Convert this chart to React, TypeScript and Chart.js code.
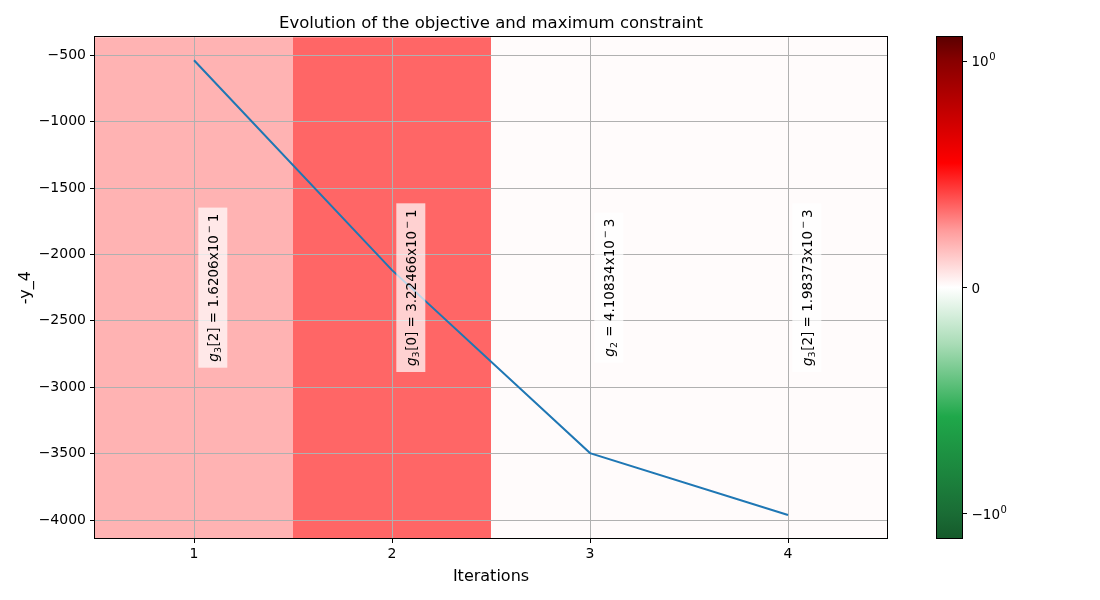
import React, { useEffect, useRef } from "react";
import { Chart, registerables } from "chart.js";

Chart.register(...registerables);

// ---------- data ----------
const ITERATIONS = [1, 2, 3, 4];
const OBJECTIVE = [-537, -2118, -3496, -3962];
const X_TICKS = [1, 2, 3, 4];
const Y_TICKS = [-500, -1000, -1500, -2000, -2500, -3000, -3500, -4000];
const X_MIN = 0.5;
const X_MAX = 4.5;
const Y_MIN = -4135.5;
const Y_MAX = -364.5;
// background colour of each iteration (max constraint value coloured by the colormap)
const SPAN_COLORS = ["#ffb3b3", "#ff6666", "#fffbfb", "#fffbfb"];
// annotation of the max constraint for each iteration
const CONSTRAINT_SUB = ["3", "3", "2", "3"];
const CONSTRAINT_INDEX = ["[2]", "[0]", "", "[2]"];
const CONSTRAINT_MANTISSA = ["1.6206", "3.22466", "4.10834", "1.98373"];
const CONSTRAINT_EXP = ["1", "1", "3", "3"];
// colorbar
const CB_MIN = -1.106;
const CB_MAX = 1.106;
const CB_TICKS = [-1, 0, 1];
const CB_TICK_BASE = ["\u221210", "0", "10"];
const CB_TICK_EXP = ["0", "", "0"];
const CB_STOP_VALUES = [1.106, 1.0, 0.55, 0.25, 0, -0.25, -0.57, -1.0, -1.106];
const CB_STOP_COLORS = [
  "#5c0000",
  "#880000",
  "#ff0000",
  "#ff9c9c",
  "#ffffff",
  "#a9dcb6",
  "#1fa84a",
  "#1a6c35",
  "#155a2b",
];

const FONT = "'DejaVu Sans', sans-serif";

function fmtTick(v: number): string {
  return v < 0 ? "\u2212" + Math.abs(v) : String(v);
}

type Piece = { text: string; size: number; italic?: boolean; dy: number; gap: number };

function buildPieces(i: number): Piece[] {
  const p: Piece[] = [];
  p.push({ text: "g", size: 13.5, italic: true, dy: 0, gap: 0 });
  p.push({ text: CONSTRAINT_SUB[i], size: 9.5, dy: 3, gap: 0 });
  p.push({
    text: (CONSTRAINT_INDEX[i] ? CONSTRAINT_INDEX[i] : "") + " = " + CONSTRAINT_MANTISSA[i] + "x10",
    size: 13.5,
    dy: 0,
    gap: CONSTRAINT_INDEX[i] ? 0.5 : 1,
  });
  p.push({ text: "\u2212", size: 9.5, dy: -5.5, gap: 2 });
  p.push({ text: CONSTRAINT_EXP[i], size: 13.5, dy: 0, gap: 3 });
  return p;
}

const spanPlugin = {
  id: "spans",
  beforeDraw(chart: any) {
    const { ctx, chartArea } = chart;
    const xs = chart.scales.x;
    ctx.save();
    ITERATIONS.forEach((it, i) => {
      const x0 = xs.getPixelForValue(it - 0.5);
      const x1 = xs.getPixelForValue(it + 0.5);
      ctx.fillStyle = SPAN_COLORS[i];
      ctx.fillRect(x0, chartArea.top, x1 - x0, chartArea.bottom - chartArea.top);
    });
    ctx.restore();
  },
};

const annotationPlugin = {
  id: "constraintText",
  afterDatasetsDraw(chart: any) {
    const { ctx, chartArea } = chart;
    const xs = chart.scales.x;
    const yc = (chartArea.top + chartArea.bottom) / 2;
    ITERATIONS.forEach((it, i) => {
      const pieces = buildPieces(i);
      ctx.save();
      let total = 0;
      const widths = pieces.map((pc) => {
        ctx.font = `${pc.italic ? "italic " : ""}${pc.size}px ${FONT}`;
        const w = ctx.measureText(pc.text).width;
        total += w + pc.gap;
        return w;
      });
      const x = xs.getPixelForValue(it + 0.095);
      ctx.translate(x, yc);
      ctx.rotate(-Math.PI / 2);
      const padL = 6;
      const halfH = 14.5;
      ctx.fillStyle = "rgba(255,255,255,0.7)";
      ctx.fillRect(-total / 2 - padL, -halfH, total + 2 * padL, 2 * halfH);
      let cx = -total / 2;
      ctx.fillStyle = "#000";
      ctx.textBaseline = "alphabetic";
      ctx.textAlign = "left";
      pieces.forEach((pc, k) => {
        cx += pc.gap;
        ctx.font = `${pc.italic ? "italic " : ""}${pc.size}px ${FONT}`;
        ctx.fillText(pc.text, cx, 5 + pc.dy);
        cx += widths[k];
      });
      ctx.restore();
    });
  },
  afterDraw(chart: any) {
    const { ctx, chartArea } = chart;
    ctx.save();
    ctx.strokeStyle = "#000";
    ctx.lineWidth = 1;
    ctx.strokeRect(
      Math.round(chartArea.left) - 0.5,
      Math.round(chartArea.top) - 0.5,
      Math.round(chartArea.right - chartArea.left) + 1,
      Math.round(chartArea.bottom - chartArea.top) + 1
    );
    ctx.restore();
  },
};

const cbPlugin = {
  id: "cbOutline",
  afterDraw(chart: any) {
    const { ctx, chartArea } = chart;
    const ys = chart.scales.y;
    ctx.save();
    ctx.strokeStyle = "#000";
    ctx.lineWidth = 1;
    ctx.strokeRect(
      Math.round(chartArea.left) - 0.5,
      Math.round(chartArea.top) - 0.5,
      Math.round(chartArea.right - chartArea.left) + 1,
      Math.round(chartArea.bottom - chartArea.top) + 1
    );
    // tick labels with superscript exponent
    ctx.fillStyle = "#000";
    ctx.textBaseline = "alphabetic";
    ctx.textAlign = "left";
    CB_TICKS.forEach((v, i) => {
      const y = ys.getPixelForValue(v);
      const x0 = chartArea.right + 9.5;
      ctx.font = `13.5px ${FONT}`;
      ctx.fillText(CB_TICK_BASE[i], x0, y + 5);
      const w = ctx.measureText(CB_TICK_BASE[i]).width;
      if (CB_TICK_EXP[i]) {
        ctx.font = `10px ${FONT}`;
        ctx.fillText(CB_TICK_EXP[i], x0 + w + 0.5, y - 1);
      }
    });
    ctx.restore();
  },
};

export default function App() {
  const mainRef = useRef<HTMLCanvasElement>(null);
  const cbRef = useRef<HTMLCanvasElement>(null);

  useEffect(() => {
    const tickFont = { family: FONT, size: 14 };
    const labelFont = { family: FONT, size: 16 };

    const main = new Chart(mainRef.current as HTMLCanvasElement, {
      type: "line",
      data: {
        datasets: [
          {
            data: ITERATIONS.map((x, i) => ({ x, y: OBJECTIVE[i] })),
            borderColor: "#1f77b4",
            borderWidth: 2,
            pointRadius: 0,
            fill: false,
            tension: 0,
          },
        ],
      },
      options: {
        responsive: false,
        animation: false,
        devicePixelRatio: 1,
        layout: { padding: { left: 0, right: 13, top: 0, bottom: 0 } },
        plugins: {
          legend: { display: false },
          tooltip: { enabled: false },
          title: {
            display: true,
            text: "Evolution of the objective and maximum constraint",
            font: { family: FONT, size: 16.5, weight: "normal" },
            color: "#000",
            padding: { top: 13.5, bottom: 4 },
            fullSize: false,
          },
        },
        scales: {
          x: {
            type: "linear",
            min: X_MIN,
            max: X_MAX,
            afterBuildTicks: (s: any) => {
              s.ticks = X_TICKS.map((v) => ({ value: v }));
            },
            afterFit: (s: any) => {
              s.height = 62;
            },
            ticks: {
              font: tickFont,
              color: "#000",
              padding: 3,
              maxRotation: 0,
              autoSkip: false,
              callback: (v: any) => fmtTick(Number(v)),
            },
            grid: { color: "#b0b0b0", lineWidth: 1, tickLength: 5, tickColor: "#000", tickWidth: 1 },
            border: { display: false },
            title: {
              display: true,
              text: "Iterations",
              font: labelFont,
              color: "#000",
              padding: { top: 0, bottom: 14 },
            },
          },
          y: {
            type: "linear",
            min: Y_MIN,
            max: Y_MAX,
            afterBuildTicks: (s: any) => {
              s.ticks = Y_TICKS.map((v) => ({ value: v }));
            },
            afterFit: (s: any) => {
              s.width = 95;
            },
            ticks: {
              font: tickFont,
              color: "#000",
              padding: 4,
              autoSkip: false,
              callback: (v: any) => fmtTick(Number(v)),
            },
            grid: { color: "#b0b0b0", lineWidth: 1, tickLength: 5, tickColor: "#000", tickWidth: 1 },
            border: { display: false },
            title: {
              display: true,
              text: "-y_4",
              font: labelFont,
              color: "#000",
              padding: { top: 16, bottom: 0 },
            },
          },
        },
      } as any,
      plugins: [spanPlugin, annotationPlugin],
    });

    const cb = new Chart(cbRef.current as HTMLCanvasElement, {
      type: "bar",
      data: {
        labels: ["cb"],
        datasets: [
          {
            data: [[CB_MIN, CB_MAX]] as any,
            backgroundColor: (c: any) => {
              const chart = c.chart;
              const ys = chart.scales && chart.scales.y;
              if (!ys || !chart.chartArea) return "#ffffff";
              const yTop = ys.getPixelForValue(CB_MAX);
              const yBot = ys.getPixelForValue(CB_MIN);
              const g = chart.ctx.createLinearGradient(0, yTop, 0, yBot);
              CB_STOP_VALUES.forEach((v, i) => {
                g.addColorStop((CB_MAX - v) / (CB_MAX - CB_MIN), CB_STOP_COLORS[i]);
              });
              return g;
            },
            borderWidth: 0,
            barPercentage: 1,
            categoryPercentage: 1,
          },
        ],
      },
      options: {
        responsive: false,
        animation: false,
        devicePixelRatio: 1,
        layout: { padding: { left: 37, right: 78, top: 37, bottom: 62 } },
        plugins: { legend: { display: false }, tooltip: { enabled: false }, title: { display: false } },
        scales: {
          x: { display: false },
          y: {
            position: "right",
            min: CB_MIN,
            max: CB_MAX,
            afterBuildTicks: (s: any) => {
              s.ticks = CB_TICKS.map((v) => ({ value: v }));
            },
            afterFit: (s: any) => {
              s.width = 60;
            },
            ticks: {
              display: false,
              autoSkip: false,
            },
            grid: { drawOnChartArea: false, tickLength: 5, tickColor: "#000", tickWidth: 1, color: "#000" },
            border: { display: false },
          },
        },
      } as any,
      plugins: [cbPlugin],
    });

    return () => {
      main.destroy();
      cb.destroy();
    };
  }, []);

  return (
    <div style={{ position: "fixed", left: 0, top: 0, width: 1100, height: 600, background: "#fff" }}>
      <canvas ref={mainRef} width={900} height={600} style={{ position: "absolute", left: 0, top: 0 }} />
      <canvas ref={cbRef} width={200} height={600} style={{ position: "absolute", left: 900, top: 0 }} />
    </div>
  );
}
